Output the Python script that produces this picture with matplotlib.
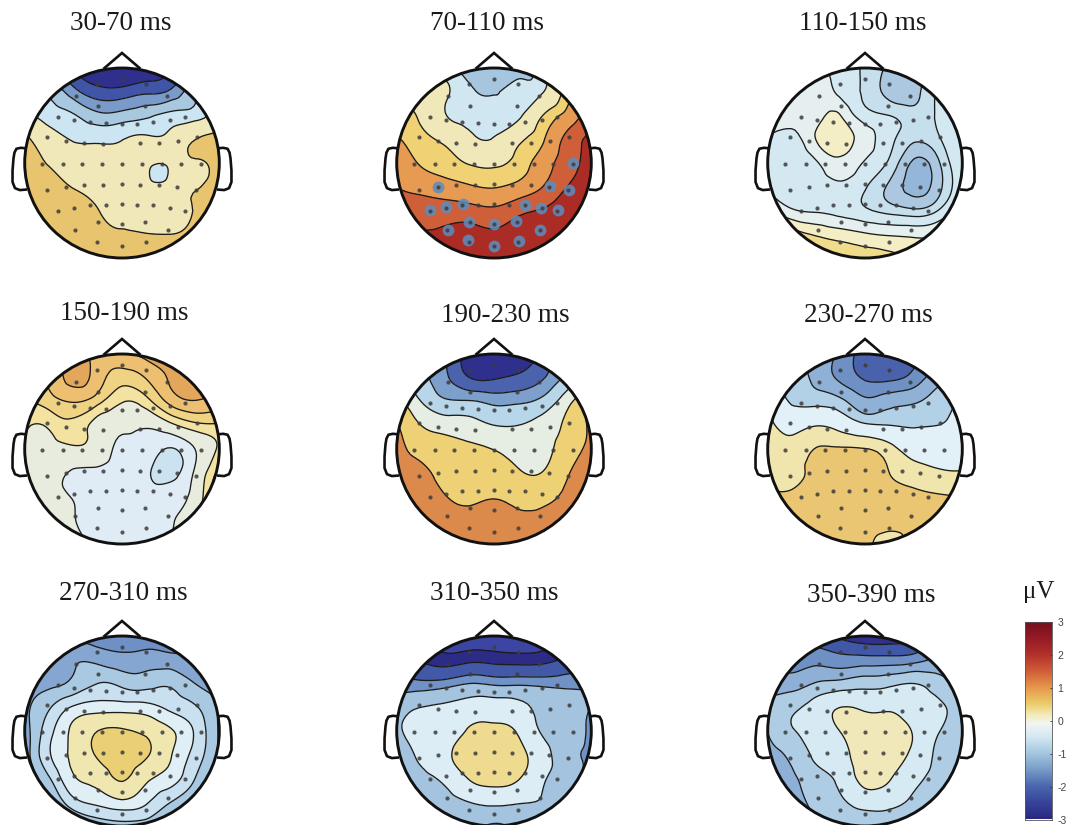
import numpy as np
import matplotlib
matplotlib.use("Agg")
import matplotlib.pyplot as plt
import matplotlib.tri as mtri
from matplotlib.colors import LinearSegmentedColormap
from matplotlib.patches import Circle

W, H = 1067, 825
TITLES = ["30-70 ms", "70-110 ms", "110-150 ms", "150-190 ms", "190-230 ms",
          "230-270 ms", "270-310 ms", "310-350 ms", "350-390 ms"]
GRID_X = [-1, -.75, -.5, -.25, 0, .25, .5, .75, 1]
GRID_Y = [1, .75, .5, .25, 0, -.25, -.5, -.75, -1]

F1 = [[-2, -2, -2.6, -3, -3.2, -3, -2.6, -2, -1.5],
      [-1, -1.1, -1.8, -2.3, -2.3, -2.1, -1.9, -1.1, -.5],
      [-.3, -.75, -.95, -1.35, -1.3, -1.1, -.85, -.75, -.2],
      [.7, -.1, -.55, -.6, -.52, -.35, -.2, .48, .8],
      [.8, .45, .1, -.1, -.2, -.1, -.1, .4, .8],
      [.9, .7, .48, .2, 0, 0, .05, .45, .8],
      [1, .8, .7, .52, .3, .1, .1, .55, .8],
      [1, .9, .8, .7, .58, .53, .5, .7, .8],
      [1, .9, .8, .8, .7, .7, .7, .8, .8]]
F2 = [[-.5, -.7, -.8, -1.3, -1.4, -1.3, -.6, .6, 1.0],
      [.2, 0, -.4, -.9, -1.05, -.85, -.55, .8, 1.4],
      [.8, .35, -.47, -.7, -.75, -.65, .5, 1.15, 1.9],
      [1.05, .7, .3, -.3, -.45, .3, .95, 1.65, 2.1],
      [1.35, .95, .75, .45, .35, .72, 1.25, 1.75, 2.25],
      [1.5, 1.35, 1.2, 1.05, .97, 1.15, 1.5, 2.0, 2.4],
      [1.7, 1.75, 1.75, 1.7, 1.6, 1.85, 2.05, 2.3, 2.5],
      [2.1, 2.05, 2.1, 2.2, 2.1, 2.3, 2.35, 2.4, 2.5],
      [2.3, 2.3, 2.3, 2.4, 2.4, 2.4, 2.5, 2.5, 2.5]]
F3 = [[-.3, -.3, -.35, -.55, -.8, -1.05, -1.1, -.8, -.5],
      [-.35, -.3, -.25, -.5, -.8, -1.1, -1.1, -.7, -.4],
      [-.3, -.25, -.2, 0, -.6, -.75, -.9, -.7, -.35],
      [-.4, -.55, .02, .2, -.2, -.65, -.95, -.8, -.35],
      [-.45, -.6, -.45, -.1, -.45, -.8, -1.3, -1.05, -.45],
      [-.4, -.55, -.6, -.5, -.72, -1.05, -1.35, -1.1, -.5],
      [-.1, -.35, -.45, -.55, -.7, -.85, -.95, -.75, -.2],
      [.9, .6, .35, .2, .05, -.05, -.1, 0, .4],
      [.7, .6, .55, .55, .55, .5, .3, .3, .5]]
F4 = [[.7, .8, 1.1, .9, .9, 1.1, 1.2, 1.2, 1],
      [.6, .75, 1.1, .85, .55, .72, 1.05, 1.2, 1],
      [.35, .55, .72, .5, .12, .28, .8, .98, .9],
      [.15, .15, .3, -.05, -.2, -.25, 0, .3, .35],
      [.02, 0, .05, -.05, -.4, -.45, -.62, -.3, .15],
      [-.05, -.15, -.35, -.4, -.45, -.55, -.7, -.25, .5],
      [0, -.15, -.32, -.4, -.45, -.5, -.45, -.15, .8],
      [0, -.05, -.28, -.38, -.4, -.4, -.33, 0, .7],
      [0, 0, -.15, -.38, -.4, -.4, -.3, 0, .5]]
F5 = [[-.6, -1.2, -2, -2.7, -2.9, -2.8, -2.3, -1.2, -.4],
      [-.4, -1.3, -1.9, -2.5, -2.55, -2.4, -2.05, -1.3, -.3],
      [.3, -.8, -1.4, -1.45, -1.65, -1.6, -1.3, -.3, 1.0],
      [1.1, 0, -.35, -.5, -.8, -.8, -.5, .2, 1.2],
      [1.2, .7, .35, .15, -.02, -.3, -.3, .5, 1.2],
      [1.3, 1.15, .75, .5, .4, .1, .03, .9, 1.4],
      [1.4, 1.25, 1.02, .85, .95, .75, .75, 1.15, 1.4],
      [1.5, 1.4, 1.3, 1.2, 1.25, 1.15, 1.2, 1.3, 1.4],
      [1.4, 1.4, 1.4, 1.4, 1.4, 1.4, 1.4, 1.4, 1.4]]
F6 = [[-.6, -1, -1.3, -1.7, -2.2, -2.3, -2.1, -1.6, -1],
      [-.6, -1.0, -1.3, -1.7, -2.05, -2.1, -1.85, -1.35, -1],
      [-.3, -.85, -.95, -1.1, -1.5, -1.35, -1.25, -1.0, -.7],
      [.3, -.3, -.03, -.3, -.7, -.8, -.85, -.8, -.6],
      [.45, .3, .62, .65, .62, .25, -.3, -.4, -.3],
      [.5, .45, .7, .75, .75, .6, .3, .1, .05],
      [.7, .7, .8, .85, .85, .8, .7, .65, .65],
      [.8, .85, .85, .85, .85, .75, .75, .8, .75],
      [.8, .85, .85, .85, .75, .4, .8, .8, .8]]
F7 = [[-1.5, -1.6, -1.7, -1.9, -1.9, -1.9, -1.8, -1.6, -1.4],
      [-1.5, -1.5, -1.25, -1.3, -1.45, -1.4, -1.45, -1.55, -1.5],
      [-1.4, -1.3, -1.1, -.8, -.9, -.95, -.87, -1.2, -1.3],
      [-1.3, -.85, -.35, -.2, -.2, -.25, -.5, -.75, -1.25],
      [-1.4, -.55, .1, .5, .55, .4, .05, -.45, -1.25],
      [-1.45, -.45, .1, .55, .7, .55, .03, -.55, -1.25],
      [-1.5, -.85, -.05, .2, .55, .1, -.2, -.8, -1.3],
      [-1.5, -1.25, -.55, -.3, -.1, -.35, -.8, -1.1, -1.3],
      [-1.5, -1.5, -1.3, -1.05, -.95, -1, -1.15, -1.4, -1.4]]
F8 = [[-3, -3, -3.1, -3.2, -3.2, -3.2, -3.1, -3, -2.9],
      [-2, -2.45, -2.7, -2.55, -2.6, -2.65, -2.6, -2.3, -2],
      [-1.5, -1.55, -1.45, -1.2, -1.3, -1.3, -1.35, -1.35, -1.25],
      [-.9, -.6, -.5, -.3, -.25, -.4, -.8, -1.0, -1.2],
      [-.7, -.4, -.2, .28, .35, .12, -.7, -1, -1.3],
      [-1.0, -.45, .1, .4, .5, .4, -.3, -1.0, -1.3],
      [-1.3, -.85, -.4, .25, .45, .25, -.5, -.95, -1.4],
      [-1.7, -1.3, -.9, -.6, -.45, -.55, -.65, -1, -1.4],
      [-1.8, -1.7, -1.4, -1.05, -1.3, -1.05, -1, -1.1, -1.3]]
F9 = [[-2.2, -2.3, -2.5, -2.8, -3, -3, -2.8, -2.5, -2.2],
      [-1.9, -1.9, -1.85, -2.0, -2.0, -2, -1.9, -1.6, -1.5],
      [-1.3, -1.45, -1.15, -1.0, -.85, -.75, -.6, -.95, -1.3],
      [-1.2, -.75, -.3, .1, 0, 0, -.2, -.45, -1.0],
      [-1.2, -.65, -.3, .12, .35, .4, .05, -.55, -1.0],
      [-1.4, -1.05, -.45, -.05, .3, .35, -.05, -.75, -1.2],
      [-1.6, -1.3, -.85, -.4, .3, .15, -.4, -.85, -1.25],
      [-1.7, -1.5, -1.0, -.7, -.35, -.4, -.75, -1.2, -1.3],
      [-1.7, -1.6, -1.4, -1.0, -.95, -1, -1.1, -1.4, -1.4]]
FIELDS = [F1, F2, F3, F4, F5, F6, F7, F8, F9]

# extra samples for features smaller than the grid: x, y, value
EXTRA_1 = [(.38, -.1, -.9)]
EXTRA_3 = [(-.32, .5, .12), (-.32, .35, .3)]
EXTRAS = [EXTRA_1, [], EXTRA_3, [], [], [], [], [], []]

LEVELS = [[-2.5, -2, -1.5, -1, -.5, .5],
          [-1, -.5, .5, 1, 1.5, 2],
          [-1.25, -1, -.75, -.4, 0, .4],
          [-.6, -.3, .1, .4, .7, 1.0],
          [-2.5, -2, -1.5, -.8, 0, 1],
          [-2, -1.6, -1.2, -.8, 0, .6],
          [-1.6, -1.2, -.8, -.4, 0, .5],
          [-2.9, -2.4, -1.7, -1.2, -.6, .2],
          [-2.7, -2.2, -1.7, -1.2, -.6, .1]]
BANDS = [["#2f2f8e", "#4054a8", "#7a9bca", "#a8c8e0", "#cce5f2", "#f0e8b8", "#e9c46f"],
         ["#a6c6e0", "#d0e7f2", "#f0e8b8", "#f0d274", "#e69a52", "#cf5f39", "#ab2b25"],
         ["#94b6d8", "#abc8e0", "#c6dfec", "#d3e8f1", "#e5eff0", "#f3eec5", "#efdc8b"],
         ["#cbe3f0", "#dfecf5", "#e8ecdf", "#f3e2a0", "#f0d382", "#ecc070", "#e3a75b"],
         ["#2f2f8e", "#4b63ad", "#7d9fcb", "#b8d6ea", "#e6ede3", "#eed174", "#db8a4c"],
         ["#4a61ac", "#6f90c5", "#8fb1d6", "#b2d0e6", "#e2f0f7", "#f0e5ad", "#ebc672"],
         ["#6f90c4", "#85a6d1", "#a9c9e2", "#c8e0ef", "#e0eff6", "#efe6b0", "#ebcf74"],
         ["#3c45a2", "#2c2b86", "#4259a8", "#7092c6", "#a3c3df", "#dcedf5", "#efdb8f"],
         ["#31308d", "#4158a8", "#6f90c5", "#8fb0d6", "#aecde4", "#d6eaf4", "#f0e8b8"]]

HEAD_X = [122, 494, 865, 122, 494, 865, 122, 494, 865]
HEAD_Y = [163, 163, 163, 449, 449, 449, 731, 731, 731]
TITLE_X = [121, 487, 863, 124, 505, 868, 123, 494, 871]
TITLE_Y = [24, 24, 24, 313, 316, 315, 594, 594, 595]

ELEC_X = [-74, 0, 71, -138, 136, -72, 69, -192, -145, -97, -49, -1, 46, 94, 144, 190,
          -225, -169, -113, -56, 54, 111, 168, 224,
          -239, -178, -121, -61, -1, 59, 119, 176, 236,
          -225, -168, -113, -56, 1, 54, 111, 166, 223,
          -192, -145, -97, -48, -1, 46, 94, 144, 190,
          -71, -1, 69, -140, 138, -76, -1, 73]
ELEC_Y = [237, 251, 237, 202, 202, 170, 171, 138, 130, 122, 119, 118, 118, 122, 128, 138,
          77, 66, 60, 58, 59, 61, 65, 77,
          -2, -3, -3, -3, -3, -3, -3, -3, -2,
          -82, -72, -66, -65, -63, -65, -66, -72, -82,
          -143, -134, -127, -125, -123, -125, -127, -134, -143,
          -176, -183, -176, -202, -202, -236, -250, -236]
SIG_X = [-168, 238, 168, 224, -193, -145, -94, 93, 142, 191, -74, -1, 67, 138, -139, -77, -1, 74]
SIG_Y = [-71, -1, -69, -81, -141, -132, -124, -125, -134, -142, -176, -182, -173, -200, -202, -232, -248, -233]

CB_COLORS = ["#2a2880", "#38449c", "#4a68ae", "#789dc9", "#a5c7e0", "#d5e9f3", "#f2f5f2",
             "#f3ecb8", "#eccb6a", "#e6964c", "#cf5c38", "#b3302a", "#941a24", "#741020"]
CB_STOPS = [-3, -2.5, -2, -1.5, -1, -.5, -.1, .15, .5, 1, 1.5, 2, 2.5, 3]
CB_TICKS = [3, 2, 1, 0, -1, -2, -3]

RX, RY = 97.3, 95.0
SPAN = 1.27
NOSE_X = [-.18, 0, .18]
NOSE_Y = [1.0, 1.158, 1.0]
EAR_X = [-.99, -1.04, -1.085, -1.105, -1.115, -1.125, -1.125, -1.10, -1.05, -.99]
EAR_Y = [.155, .16, .15, .11, .05, -.08, -.2, -.265, -.285, -.28]

fig = plt.figure(figsize=(W / 100, H / 100), dpi=100, facecolor="white")
SERIF = ["Liberation Serif", "DejaVu Serif"]
xg, yg = np.meshgrid(GRID_X, GRID_Y)

for i in range(9):
    ax = fig.add_axes([(HEAD_X[i] - SPAN * RX) / W, 1 - (HEAD_Y[i] + SPAN * RY) / H,
                       2 * SPAN * RX / W, 2 * SPAN * RY / H])
    ax.set_xlim(-SPAN, SPAN)
    ax.set_ylim(-SPAN, SPAN)
    ax.axis("off")
    ex = np.array(EXTRAS[i]).reshape(-1, 3)
    px = np.r_[xg.ravel(), ex[:, 0]]
    py = np.r_[yg.ravel(), ex[:, 1]]
    pz = np.r_[np.array(FIELDS[i], float).ravel(), ex[:, 2]]
    tri = mtri.Triangulation(px, py)
    fine, zf = mtri.UniformTriRefiner(tri).refine_field(pz, subdiv=3)
    lv = LEVELS[i]
    edges = [-20] + lv + [20]
    clip = Circle((0, 0), 1, transform=ax.transData)
    cf = ax.tricontourf(fine, zf, levels=edges, colors=BANDS[i])
    cf.set_clip_path(clip)
    cl = ax.tricontour(fine, zf, levels=lv, colors="#1c1c1c", linewidths=0.95,
                       linestyles="solid")
    cl.set_clip_path(clip)
    if i == 1:
        ax.scatter(np.array(SIG_X) / 292, np.array(SIG_Y) / 285, s=72, color="#5a8dc0",
                   alpha=.85, linewidths=0, zorder=4)
    ax.scatter(np.array(ELEC_X) / 292, np.array(ELEC_Y) / 285, s=9, color="#3d3d3d",
               alpha=.85, linewidths=0, zorder=5)
    ax.add_patch(Circle((0, 0), 1, fill=False, ec="#111111", lw=2.1, zorder=6))
    ax.plot(NOSE_X, NOSE_Y, color="#111111", lw=1.9, solid_joinstyle="miter", zorder=6)
    for s in (-1, 1):
        ax.plot(-s * np.array(EAR_X), EAR_Y, color="#111111", lw=1.9, zorder=6)
    fig.text(TITLE_X[i] / W, 1 - TITLE_Y[i] / H, TITLES[i], ha="center", va="center",
             fontsize=19.5, family=SERIF, color="#1a1a1a")

cmap = LinearSegmentedColormap.from_list(
    "uv", [((s + 3) / 6, c) for s, c in zip(CB_STOPS, CB_COLORS)], N=256)
cax = fig.add_axes([1025 / W, 1 - 819.5 / H, 27 / W, 197.5 / H])
cax.imshow(np.linspace(3, -3, 256)[:, None], aspect="auto", cmap=cmap, vmin=-3, vmax=3,
           extent=[0, 1, -3, 3])
cax.set_xticks([])
cax.yaxis.tick_right()
cax.set_yticks(CB_TICKS)
cax.set_yticklabels([str(t) for t in CB_TICKS], family=["Liberation Sans"], fontsize=7.5,
                    color="#444444")
cax.tick_params(axis="y", direction="in", length=1.5, width=.6, color="#333333", pad=4)
for sp in cax.spines.values():
    sp.set_linewidth(.6)
    sp.set_color("#555555")
fig.text(1038.5 / W, 1 - 592 / H, "\u03bcV", ha="center", va="center", fontsize=18,
         family=SERIF, color="#1a1a1a")

fig.savefig("out.png", dpi=100)
